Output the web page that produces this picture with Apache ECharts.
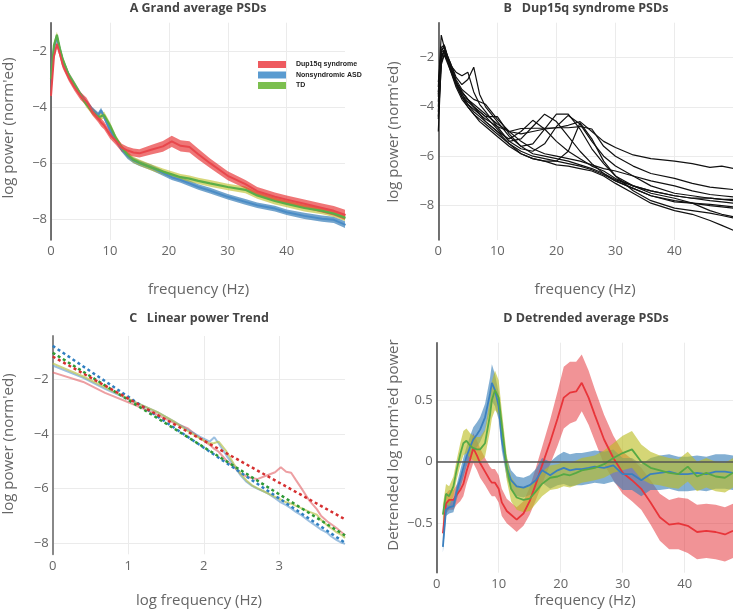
<!DOCTYPE html>
<html><head><meta charset="utf-8">
<script src="https://cdn.jsdelivr.net/npm/echarts@6/dist/echarts.min.js"></script>
<style>html,body{margin:0;padding:0;background:#fff}#c{width:733px;height:612px}</style>
</head><body><div id="c"></div>
<script>
// ---------- Panel A: grand average PSDs ----------
const fA = [0,0.5,1,1.5,2,3,4,5,6,7,8,8.5,9,10,11,12,13,14,15,17,19,20.5,22,23.5,25,27,30,33,35,38,40,43,46,48,50];
const aDup = [-3.6,-2.2,-1.75,-2.1,-2.5,-2.95,-3.3,-3.6,-3.8,-4.15,-4.4,-4.55,-4.65,-4.98,-5.2,-5.45,-5.55,-5.62,-5.65,-5.52,-5.4,-5.22,-5.38,-5.42,-5.68,-6.0,-6.45,-6.75,-7.0,-7.2,-7.3,-7.45,-7.6,-7.7,-7.85];
const aDupErr = [0.12,0.12,0.12,0.12,0.12,0.12,0.13,0.14,0.14,0.14,0.14,0.14,0.14,0.14,0.14,0.14,0.14,0.14,0.15,0.17,0.19,0.2,0.2,0.2,0.19,0.17,0.16,0.15,0.15,0.15,0.15,0.15,0.16,0.17,0.18];
const aAsd = [-3.0,-1.9,-1.5,-1.95,-2.35,-2.85,-3.2,-3.55,-3.85,-4.1,-4.28,-4.12,-4.35,-4.8,-5.15,-5.5,-5.75,-5.9,-6.0,-6.15,-6.35,-6.5,-6.6,-6.72,-6.85,-6.98,-7.2,-7.38,-7.5,-7.62,-7.75,-7.88,-7.98,-8.02,-8.2];
const aAsdErr = [0.1,0.1,0.1,0.1,0.1,0.1,0.1,0.1,0.1,0.1,0.1,0.1,0.1,0.1,0.1,0.1,0.1,0.1,0.1,0.1,0.1,0.1,0.1,0.1,0.1,0.1,0.1,0.1,0.1,0.1,0.1,0.11,0.11,0.11,0.12];
const aTd = [-3.0,-1.8,-1.42,-1.9,-2.3,-2.85,-3.2,-3.55,-3.9,-4.15,-4.35,-4.33,-4.28,-4.65,-5.1,-5.45,-5.7,-5.88,-5.98,-6.15,-6.3,-6.4,-6.5,-6.55,-6.63,-6.72,-6.85,-6.95,-7.15,-7.35,-7.45,-7.6,-7.7,-7.8,-7.95];
const aTdErr = [0.11,0.11,0.11,0.11,0.11,0.11,0.11,0.11,0.11,0.11,0.12,0.12,0.12,0.12,0.11,0.11,0.11,0.11,0.11,0.11,0.11,0.11,0.11,0.11,0.11,0.12,0.12,0.12,0.12,0.12,0.12,0.12,0.12,0.12,0.12];

// ---------- Panel B: individual Dup15q PSDs ----------
const fB = [0,0.5,1,2,3,4,5,6,7,8,10,12,14,16,18,20,22,24,26,28,30,33,36,40,43,46,48,50];
const bSubjects = [
  [-3.0,-1.8,-1.5,-2.3,-3.0,-3.4,-3.7,-3.9,-4.1,-4.3,-4.7,-5.0,-5.1,-5.0,-4.9,-4.85,-4.75,-4.6,-5.0,-5.4,-5.65,-5.95,-6.1,-6.2,-6.3,-6.45,-6.4,-6.5],
  [-4.0,-2.0,-1.7,-2.4,-3.0,-3.5,-3.8,-4.0,-4.3,-4.5,-4.8,-5.0,-4.88,-4.87,-4.87,-4.85,-4.85,-4.8,-4.9,-5.6,-6.0,-6.4,-6.7,-6.9,-7.1,-7.25,-7.3,-7.35],
  [-4.5,-2.3,-1.9,-2.3,-2.6,-2.75,-2.6,-3.4,-3.9,-4.2,-4.8,-5.4,-5.3,-4.8,-4.3,-4.6,-5.2,-5.8,-6.3,-6.7,-7.0,-7.3,-7.6,-7.8,-7.9,-8.0,-8.05,-8.1],
  [-3.2,-1.1,-1.6,-2.2,-2.8,-3.1,-2.9,-2.4,-3.5,-4.0,-4.6,-5.2,-5.6,-5.5,-4.9,-4.3,-4.3,-4.9,-5.7,-6.3,-6.8,-7.2,-7.5,-7.7,-7.9,-8.2,-8.35,-8.45],
  [-3.5,-1.6,-1.5,-2.4,-3.0,-3.4,-3.7,-4.0,-4.2,-4.4,-4.9,-5.4,-5.7,-5.8,-5.5,-4.8,-4.35,-4.7,-5.4,-6.0,-6.4,-6.8,-7.2,-7.5,-7.6,-7.7,-7.75,-7.8],
  [-4.2,-2.1,-1.7,-2.5,-3.1,-3.6,-3.9,-4.1,-4.3,-4.6,-5.0,-5.5,-5.9,-6.1,-6.2,-6.2,-5.8,-4.65,-5.3,-6.2,-6.8,-7.4,-7.8,-8.1,-8.2,-8.3,-8.4,-8.5],
  [-3.8,-1.9,-1.8,-2.4,-3.0,-3.5,-3.9,-4.2,-4.4,-4.6,-5.0,-5.3,-5.0,-4.55,-4.9,-5.4,-5.8,-6.1,-6.4,-6.6,-6.9,-7.2,-7.4,-7.6,-7.7,-7.7,-7.75,-7.75],
  [-5.0,-2.2,-1.9,-2.5,-3.2,-3.7,-4.0,-4.3,-4.6,-4.8,-5.2,-5.6,-5.9,-6.1,-6.2,-6.35,-6.4,-6.5,-6.6,-6.8,-7.1,-7.5,-7.9,-8.2,-8.35,-8.6,-8.8,-9.0],
  [-3.4,-1.7,-1.6,-2.4,-3.0,-3.4,-3.7,-4.0,-4.2,-4.4,-4.4,-5.1,-5.6,-5.9,-6.0,-6.1,-6.2,-6.35,-6.5,-6.7,-6.95,-7.2,-7.4,-7.6,-7.7,-7.8,-7.85,-7.9],
  [-3.6,-1.8,-1.7,-2.2,-2.9,-3.3,-3.5,-3.7,-3.8,-3.9,-4.5,-5.0,-5.4,-5.7,-5.9,-6.0,-6.1,-6.2,-6.35,-6.5,-6.6,-6.8,-7.0,-7.2,-7.4,-7.55,-7.6,-7.65],
  [-4.4,-2.0,-1.8,-2.4,-3.1,-3.6,-4.0,-4.3,-4.5,-4.7,-5.1,-5.5,-5.8,-6.0,-6.1,-6.2,-6.3,-6.4,-6.55,-6.75,-7.0,-7.3,-7.6,-7.85,-7.9,-7.95,-8.0,-8.05]
];

// ---------- Panel C: linear trend in log-log ----------
const trendX = [0, 3.87];
const trendDup = [-1.17, -7.12];
const trendAsd = [-0.78, -7.98];
const trendTd = [-1.03, -7.71];

// ---------- Panel D: detrended average PSDs ----------
const fD = [1,1.5,2,2.7,3.2,3.8,4.3,4.8,5.4,5.9,6.5,7,7.8,8.6,8.9,9.4,10,10.5,11.3,12,12.9,14,15,16,17,18.3,19.5,20.5,21.5,22.5,23.4,24.5,25.5,27,28.5,30,31.5,33,34.5,36,37.5,39,40.5,42,43.5,45,46.5,47.8];
const dDup = [-0.58,-0.34,-0.31,-0.31,-0.27,-0.23,-0.18,-0.08,0.02,0.11,0.05,-0.01,-0.08,-0.15,-0.17,-0.17,-0.22,-0.33,-0.40,-0.43,-0.47,-0.42,-0.32,-0.18,-0.03,0.16,0.35,0.52,0.56,0.57,0.64,0.52,0.38,0.18,0.03,-0.09,-0.15,-0.22,-0.33,-0.45,-0.51,-0.50,-0.52,-0.57,-0.56,-0.57,-0.59,-0.56];
const dDupErr = [0.08,0.08,0.08,0.08,0.08,0.09,0.1,0.1,0.11,0.12,0.12,0.12,0.11,0.11,0.11,0.11,0.11,0.11,0.1,0.1,0.1,0.1,0.11,0.13,0.15,0.18,0.22,0.25,0.25,0.24,0.23,0.22,0.21,0.2,0.18,0.17,0.17,0.17,0.18,0.19,0.2,0.21,0.22,0.22,0.22,0.22,0.22,0.22];
const dAsd = [-0.69,-0.39,-0.37,-0.36,-0.25,-0.14,-0.05,0.04,0.12,0.18,0.22,0.26,0.36,0.55,0.64,0.58,0.45,0.18,-0.05,-0.15,-0.20,-0.21,-0.19,-0.15,-0.07,-0.11,-0.07,-0.05,-0.07,-0.06,-0.06,-0.05,-0.04,-0.05,-0.03,-0.10,-0.10,-0.15,-0.10,-0.09,-0.08,-0.10,-0.10,-0.09,-0.10,-0.08,-0.08,-0.09];
const dAsdErr = [0.05,0.05,0.05,0.05,0.06,0.07,0.08,0.08,0.09,0.1,0.1,0.1,0.11,0.13,0.15,0.13,0.11,0.09,0.08,0.08,0.08,0.08,0.08,0.09,0.1,0.11,0.12,0.13,0.13,0.13,0.13,0.13,0.13,0.13,0.13,0.13,0.13,0.13,0.13,0.14,0.14,0.14,0.14,0.14,0.14,0.14,0.14,0.14];
const dTd = [-0.43,-0.26,-0.28,-0.2,-0.07,0.06,0.15,0.17,0.13,0.11,0.10,0.10,0.15,0.38,0.50,0.58,0.52,0.30,-0.05,-0.22,-0.29,-0.31,-0.30,-0.24,-0.18,-0.13,-0.12,-0.10,-0.11,-0.09,-0.07,-0.06,-0.05,-0.02,0.03,0.07,0.10,0.0,-0.05,-0.07,-0.09,-0.10,-0.04,-0.12,-0.09,-0.12,-0.13,-0.09];
const dTdErr = [0.08,0.08,0.08,0.08,0.08,0.09,0.1,0.1,0.1,0.1,0.1,0.1,0.11,0.13,0.15,0.16,0.14,0.12,0.1,0.1,0.1,0.1,0.1,0.1,0.1,0.1,0.1,0.1,0.1,0.1,0.1,0.1,0.1,0.11,0.12,0.14,0.15,0.14,0.13,0.12,0.12,0.12,0.12,0.12,0.12,0.12,0.12,0.12];

// ---------- tick labels ----------
const ticksFreq = [0,10,20,30,40];
const ticksLogFreq = [0,1,2,3];
const ticksPower = [-8,-6,-4,-2];
const ticksDetr = [-0.5,0,0.5];

const groupNames = ['Dup15q syndrome','Nonsyndromic ASD','TD'];

// ---------- helpers ----------
const pairs = (xs, ys) => xs.map((x, i) => [x, ys[i]]);
const fmt = v => (v < 0 ? '\u2212' + Math.abs(v) : String(v));
const FONT = 'Open Sans';

function xAx(gi, min, max, ticks) {
  return {type:'value', gridIndex:gi, min, max,
    axisLine:{show:false}, axisTick:{show:false, customValues:ticks},
    axisLabel:{customValues:ticks, color:'#666', fontSize:13, fontFamily:FONT, margin:5, formatter:fmt},
    splitLine:{show:true, lineStyle:{color:'#ebebeb', width:1}}};
}
function yAx(gi, min, max, ticks, lineColor, lineW) {
  return {type:'value', gridIndex:gi, min, max,
    axisLine:{show:true, onZero:false, lineStyle:{color:lineColor, width:lineW}},
    axisTick:{show:false, customValues:ticks},
    axisLabel:{customValues:ticks, color:'#666', fontSize:13, fontFamily:FONT, margin:4, formatter:fmt},
    splitLine:{show:true, lineStyle:{color:'#ebebeb', width:1}}};
}
function band(gi, xs, mean, half, fill) {
  return {type:'custom', xAxisIndex:gi, yAxisIndex:gi, silent:true, clip:true,
    data:[[xs[0], mean[0]]],
    renderItem: function (params, api) {
      const pts = [];
      for (let i = 0; i < xs.length; i++) pts.push(api.coord([xs[i], mean[i] + half[i]]));
      for (let i = xs.length - 1; i >= 0; i--) pts.push(api.coord([xs[i], mean[i] - half[i]]));
      return {type:'polygon', shape:{points:pts}, style:{fill:fill}};
    }};
}
function line(gi, name, data, color, width, extra) {
  return Object.assign({type:'line', name, xAxisIndex:gi, yAxisIndex:gi, data,
    showSymbol:false, symbol:'none', silent:true, clip:true,
    lineStyle:{color, width}, itemStyle:{color}}, extra || {});
}

// Panel C solid curves: panel A means on natural-log frequency (1..48 Hz)
function logPairs(vals) {
  const out = [];
  fA.forEach((f, i) => { if (f >= 1 && f <= 48) out.push([Math.log(f), vals[i]]); });
  return out;
}

const series = [];
// A
series.push(band(0, fA, aAsd, aAsdErr, 'rgba(55,126,184,0.7)'));
series.push(line(0, groupNames[1], pairs(fA, aAsd), '#4a8cc6', 2));
series.push(band(0, fA, aTd, aTdErr, 'rgba(188,189,34,0.6)'));
series.push(line(0, groupNames[2], pairs(fA, aTd), '#5aae48', 2.2));
series.push(band(0, fA, aDup, aDupErr, 'rgba(228,26,28,0.6)'));
series.push(line(0, groupNames[0], pairs(fA, aDup), '#e8474c', 2));
// B
bSubjects.forEach((s, k) => series.push(line(1, 'subject ' + (k + 1), pairs(fB, s), '#111', 1.2)));
// C
series.push(line(2, 'Dup15q log', logPairs(aDup), 'rgba(225,95,100,0.6)', 2));
series.push(line(2, 'ASD log', logPairs(aAsd), 'rgba(90,150,205,0.6)', 2));
series.push(line(2, 'TD log', logPairs(aTd), 'rgba(185,195,80,0.7)', 2));
series.push(line(2, 'ASD trend', pairs(trendX, trendAsd), '#2f7fc1', 2.5, {lineStyle:{color:'#2f7fc1', width:2.5, type:[3,3]}}));
series.push(line(2, 'TD trend', pairs(trendX, trendTd), '#2e9a35', 2.5, {lineStyle:{color:'#2e9a35', width:2.5, type:[3,3]}}));
series.push(line(2, 'Dup15q trend', pairs(trendX, trendDup), '#d62f30', 2.5, {lineStyle:{color:'#d62f30', width:2.5, type:[3,3]}}));
// D
series.push(band(3, fD, dDup, dDupErr, 'rgba(228,40,45,0.5)'));
series.push(line(3, groupNames[0] + ' ', pairs(fD, dDup), '#e8353a', 1.8, {
  markLine:{silent:true, symbol:'none', label:{show:false}, animation:false,
    lineStyle:{color:'#555', width:1.5, type:'solid'}, data:[{yAxis:0}]}}));
series.push(band(3, fD, dAsd, dAsdErr, 'rgba(55,126,184,0.62)'));
series.push(line(3, groupNames[1] + ' ', pairs(fD, dAsd), '#3b80bf', 1.8));
series.push(band(3, fD, dTd, dTdErr, 'rgba(188,189,34,0.62)'));
series.push(line(3, groupNames[2] + ' ', pairs(fD, dTd), '#56a945', 1.8));

function txt(t, x, y, size, opts) {
  opts = opts || {};
  return {type:'text', x, y, rotation: opts.rot || 0, silent:true,
    style:{text:t, fontSize:size, fontFamily:FONT, fontWeight:opts.bold ? 'bold' : 'normal',
      fill:opts.color || '#666', align:'center', verticalAlign:'middle',
      textAlign:'center', textVerticalAlign:'middle'}};
}
const R = Math.PI / 2;

const option = {
  animation:false,
  backgroundColor:'#fff',
  grid:[
    {left:51, top:22.7, width:294, height:217.3, outerBoundsMode:'none'},
    {left:438.3, top:22.7, width:294.7, height:217.3, outerBoundsMode:'none'},
    {left:52.7, top:336, width:292.3, height:218.3, outerBoundsMode:'none'},
    {left:436.7, top:342.7, width:296.3, height:230, outerBoundsMode:'none'}
  ],
  xAxis:[
    xAx(0, 0, 49.9, ticksFreq),
    xAx(1, 0, 49.9, ticksFreq),
    xAx(2, 0, 3.87, ticksLogFreq),
    xAx(3, 0, 47.8, ticksFreq)
  ],
  yAxis:[
    yAx(0, -8.74, -0.99, ticksPower, '#444', 1.5),
    yAx(1, -9.39, -0.6, ticksPower, '#444', 1.5),
    yAx(2, -8.4, -0.42, ticksPower, '#888', 2),
    yAx(3, -0.9, 0.965, ticksDetr, '#444', 1.5)
  ],
  legend:{
    left:253, top:56, orient:'vertical', selectedMode:false,
    itemWidth:28, itemHeight:7, itemGap:3.5,
    textStyle:{fontSize:7, fontWeight:'bold', color:'#222', fontFamily:'Liberation Sans', padding:[0,0,0,5]},
    data:[
      {name:groupNames[0], icon:'rect', itemStyle:{color:'#ee5a5f'}},
      {name:groupNames[1], icon:'rect', itemStyle:{color:'#5a9bd0'}},
      {name:groupNames[2], icon:'rect', itemStyle:{color:'#7cbf4f'}}
    ]
  },
  graphic:[
    txt('A Grand average PSDs', 198, 8, 12.5, {bold:true, color:'#444'}),
    txt('B   Dup15q syndrome PSDs', 586, 8, 12.5, {bold:true, color:'#444'}),
    txt('C   Linear power Trend', 199, 318, 12.5, {bold:true, color:'#444'}),
    txt('D Detrended average PSDs', 586, 318, 12.5, {bold:true, color:'#444'}),
    txt('frequency (Hz)', 198.5, 290, 15),
    txt('frequency (Hz)', 585, 290, 15),
    txt('log frequency (Hz)', 199, 601, 15),
    txt('frequency (Hz)', 585, 601, 15),
    txt("log power (norm'ed)", 9, 128, 15, {rot:R}),
    txt("log power (norm'ed)", 394, 132, 15, {rot:R}),
    txt("log power (norm'ed)", 9, 444, 15, {rot:R}),
    txt("Detrended log norm'ed power", 394, 445, 15, {rot:R})
  ],
  series
};

const chart = echarts.init(document.getElementById('c'), null, {renderer:'canvas'});
chart.setOption(option);
</script></body></html>
